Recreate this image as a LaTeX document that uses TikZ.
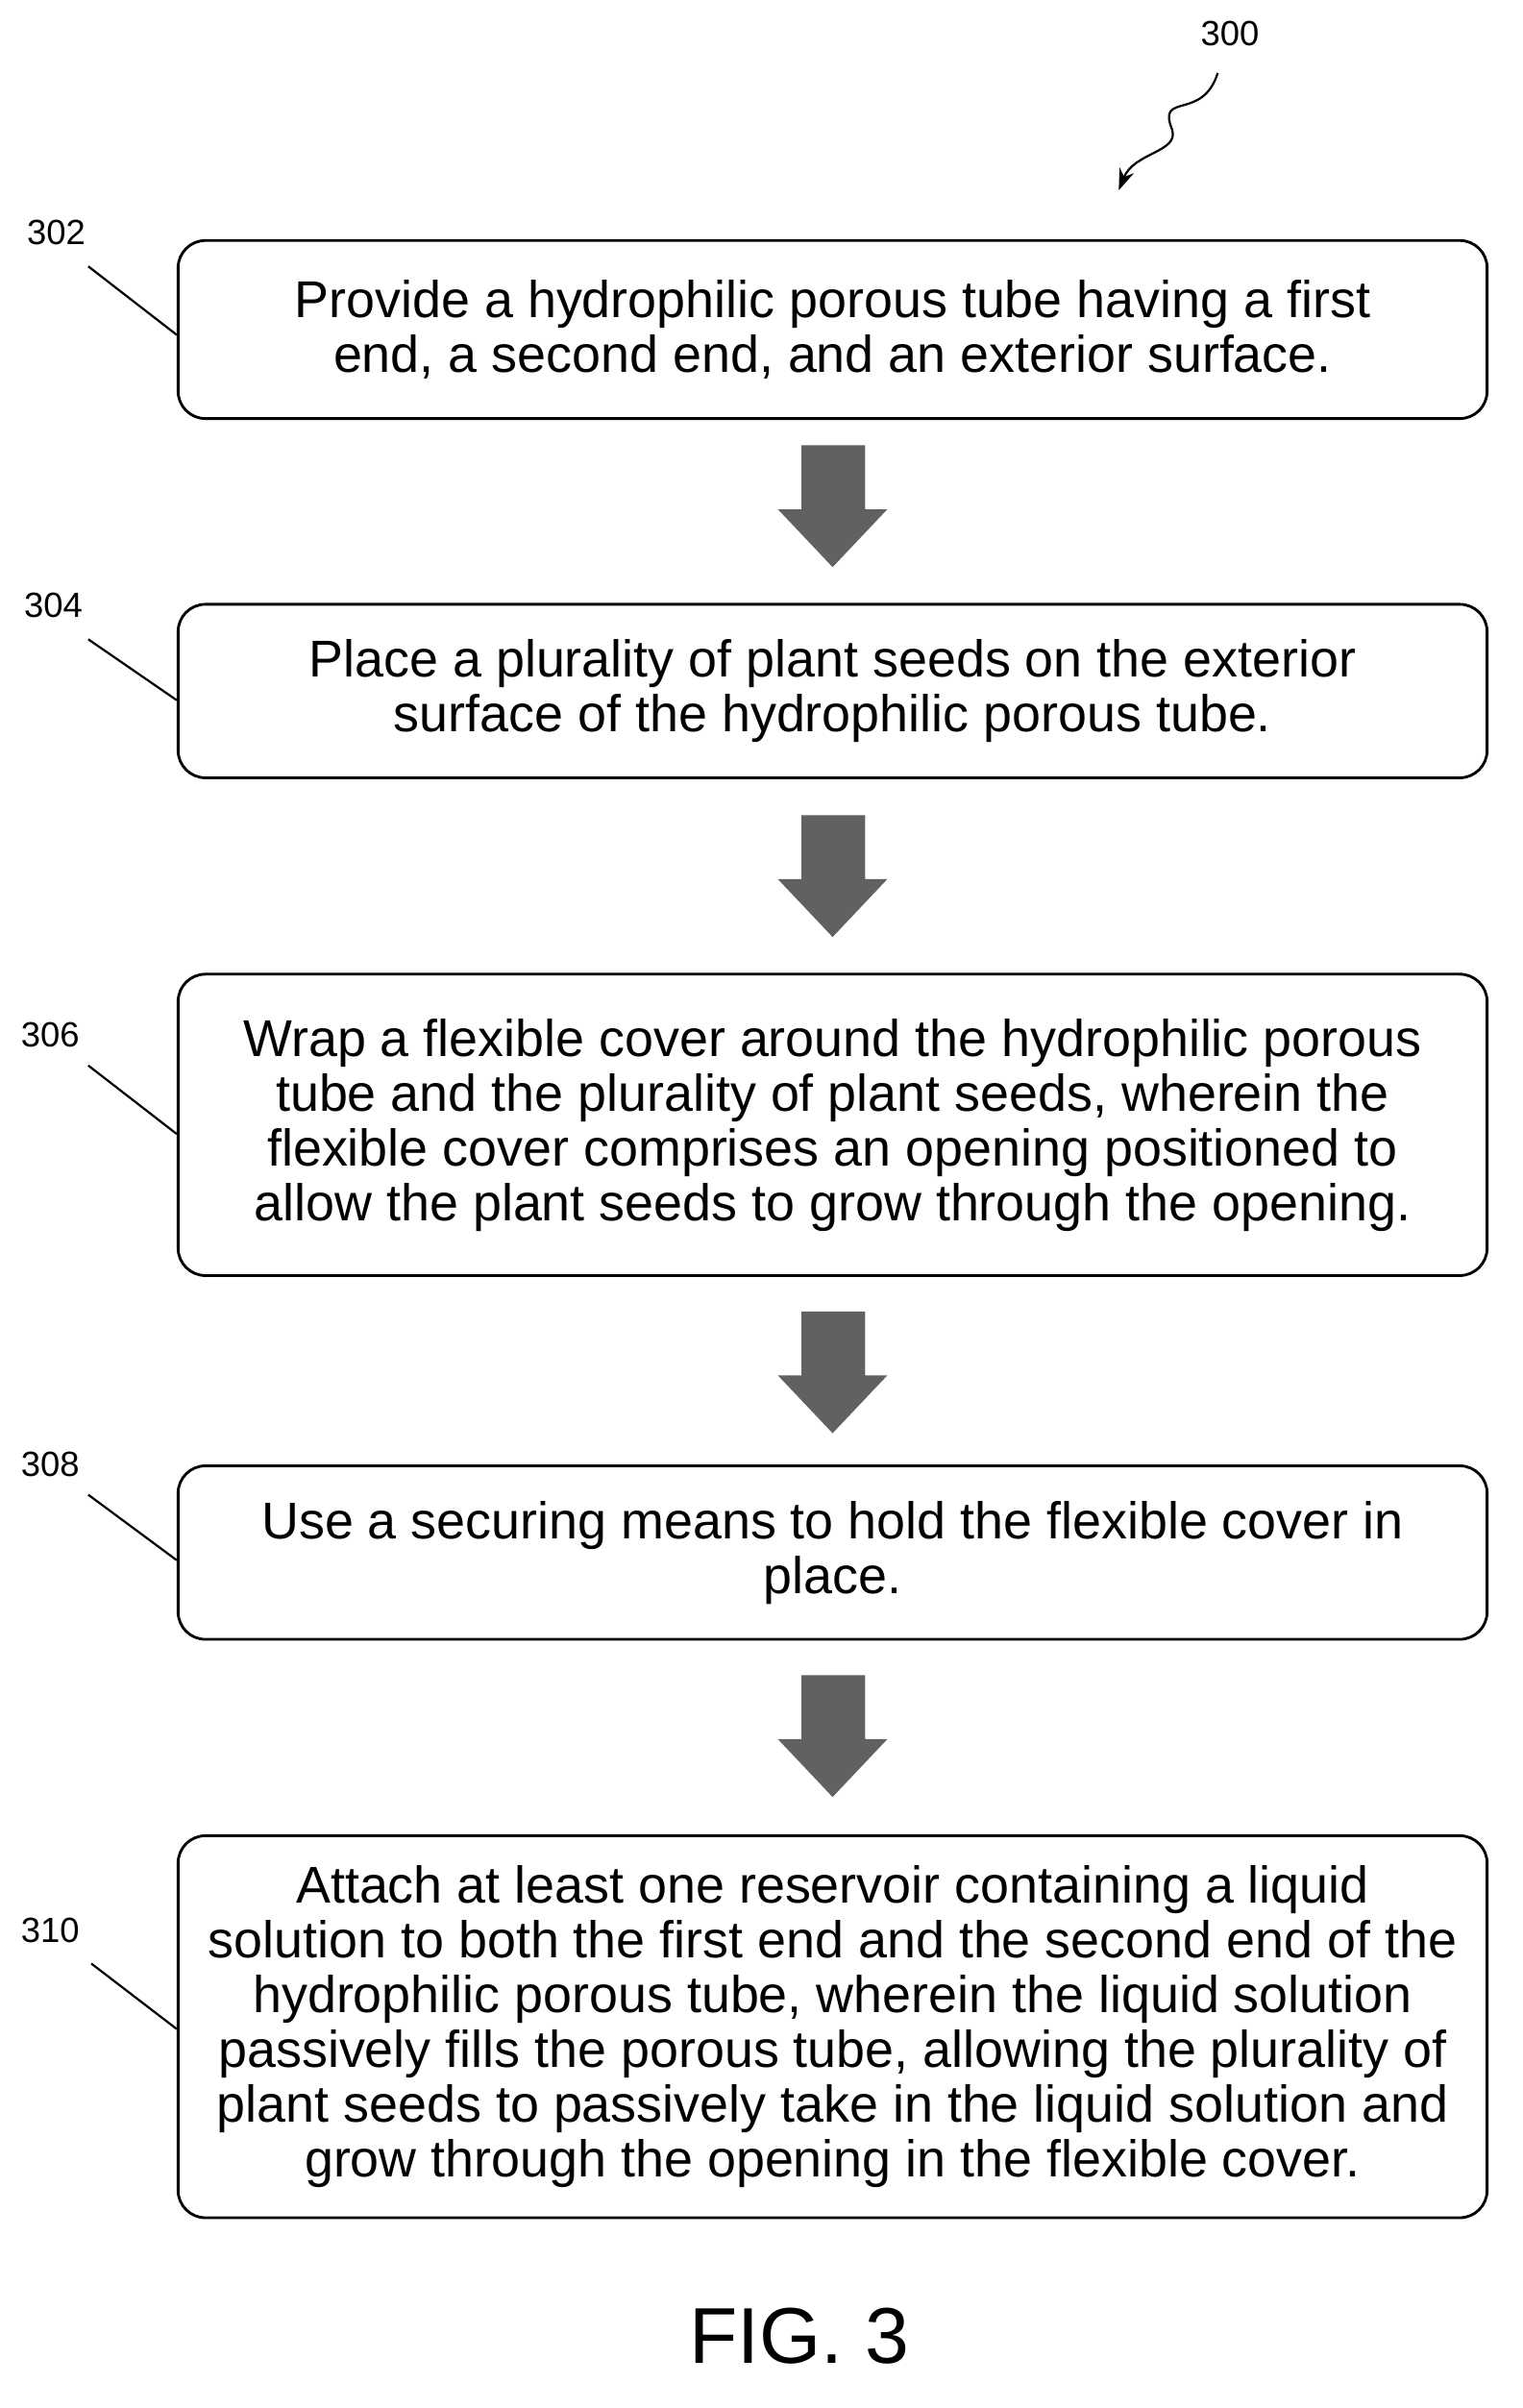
\documentclass[tikz,border=0pt]{standalone}
\usepackage{fontspec}
\setmainfont{Liberation Sans}
\usetikzlibrary{arrows.meta}
\begin{document}
\begin{tikzpicture}[x=0.5pt,y=-0.5pt,
  box/.style={draw,line width=0.9pt,rounded corners=9pt,minimum width=430pt,align=center,font=\fontsize{17}{18}\selectfont,inner sep=0pt},
  lbl/.style={font=\fontsize{11.5}{13}\selectfont},
  lead/.style={line width=0.7pt},
  bigarrow/.style={fill=black!62,draw=black!62}]
\useasboundingbox (0,0) rectangle (1000,1582);
\node[box,minimum height=58.5pt] (b1) at (547,216.5) {Provide a hydrophilic porous tube having a first\\end, a second end, and an exterior surface.};
\node[box,minimum height=57pt] (b2) at (547,454) {Place a plurality of plant seeds on the exterior\\surface of the hydrophilic porous tube.};
\node[box,minimum height=99pt] (b3) at (547,739) {Wrap a flexible cover around the hydrophilic porous\\tube and the plurality of plant seeds, wherein the\\flexible cover comprises an opening positioned to\\allow the plant seeds to grow through the opening.};
\node[box,minimum height=57pt] (b4) at (547,1020) {Use a securing means to hold the flexible cover in\\place.};
\node[box,minimum height=125.5pt] (b5) at (547,1331.5) {Attach at least one reservoir containing a liquid\\solution to both the first end and the second end of the\\hydrophilic porous tube, wherein the liquid solution\\passively fills the porous tube, allowing the plurality of\\plant seeds to passively take in the liquid solution and\\grow through the opening in the flexible cover.};
\foreach \t in {293,536,862,1101}{
  \fill[bigarrow] (527,\t) -- (568,\t) -- (568,\t+42) -- (582,\t+42) -- (547,\t+79) -- (512,\t+42) -- (527,\t+42) -- cycle;
}
\node[lbl] (l302) at (37,153) {302};
\node[lbl] (l304) at (35,398) {304};
\node[lbl] (l306) at (33,680) {306};
\node[lbl] (l308) at (33,962) {308};
\node[lbl] (l310) at (33,1268) {310};
\draw[lead] (58,175) -- (b1.west|-0,220);
\draw[lead] (58,420) -- (b2.west|-0,460);
\draw[lead] (58,700) -- (b3.west|-0,745);
\draw[lead] (58,982) -- (b4.west|-0,1025);
\draw[lead] (60,1290) -- (b5.west|-0,1333);
\node[lbl] (l300) at (808,22) {300};
\coordinate (t300) at (735,125);
\draw[lead,-{Stealth[length=7pt,width=5pt]}] (800,48) .. controls (790,80) and (760,60) .. (770,85) .. controls (775,100) and (745,100) .. (t300);
\node[font=\fontsize{26}{30}\selectfont] (fig) at (525,1535) {FIG. 3};
\end{tikzpicture}
\end{document}
